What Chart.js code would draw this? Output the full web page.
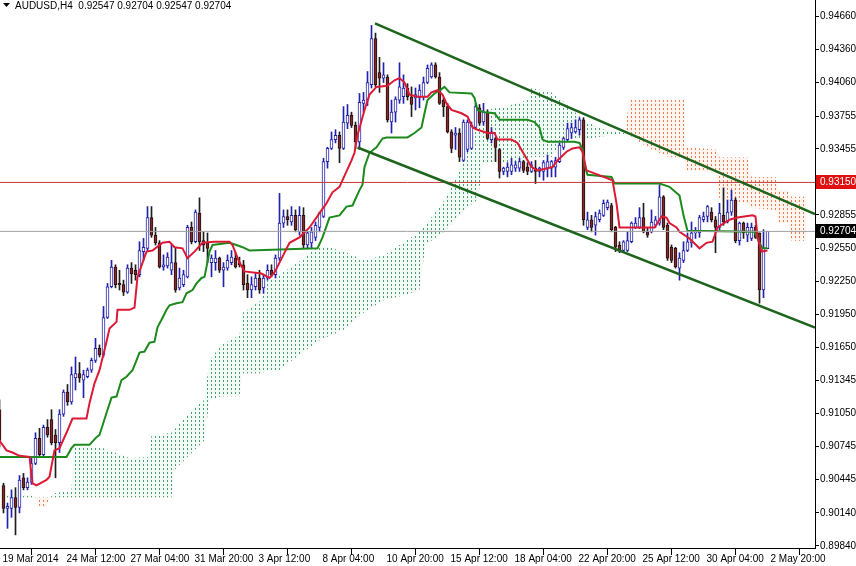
<!DOCTYPE html>
<html>
<head>
<meta charset="utf-8">
<title>AUDUSD,H4</title>
<script src="https://cdn.jsdelivr.net/npm/chart.js@4.4.1/dist/chart.umd.min.js"></script>
<style>
  html, body { margin: 0; padding: 0; background: #fff; }
  #wrap { width: 856px; height: 566px; }
</style>
</head>
<body>
<div id="wrap"><canvas id="chart" width="856" height="566"></canvas></div>
<script>
// AUDUSD H4 with Ichimoku, a falling channel and two price levels
// values are read off the screenshot, one entry per H4 bar

const opens = [
  0.9108,0.9039,0.9018,0.9018,0.9028,0.9019,0.9046,0.9037,0.9042,0.9059,
  0.9082,0.9067,0.9092,0.9099,0.9085,0.9078,0.9104,0.9124,0.9115,0.9137,
  0.9141,0.9135,0.9138,0.9144,0.9153,0.9164,0.9158,0.9192,0.9220,0.9238,
  0.9223,0.9222,0.9215,0.9237,0.9235,0.9231,0.9252,0.9255,0.9283,0.9267,
  0.9260,0.9238,0.9239,0.9235,0.9242,0.9219,0.9222,0.9229,0.9274,0.9261,
  0.9287,0.9262,0.9260,0.9242,0.9242,0.9246,0.9235,0.9237,0.9242,0.9246,
  0.9242,0.9240,0.9223,0.9217,0.9220,0.9228,0.9219,0.9228,0.9235,0.9231,
  0.9246,0.9278,0.9284,0.9279,0.9285,0.9270,0.9285,0.9258,0.9260,0.9265,
  0.9274,0.9284,0.9334,0.9346,0.9354,0.9358,0.9346,0.9369,0.9376,0.9367,
  0.9352,0.9387,0.9390,0.9404,0.9446,0.9415,0.9410,0.9411,0.9370,0.9379,
  0.9390,0.9393,0.9401,0.9393,0.9392,0.9392,0.9393,0.9406,0.9411,0.9422,
  0.9411,0.9390,0.9384,0.9361,0.9358,0.9360,0.9335,0.9345,0.9346,0.9365,
  0.9383,0.9370,0.9379,0.9354,0.9355,0.9345,0.9325,0.9325,0.9325,0.9328,
  0.9328,0.9334,0.9329,0.9325,0.9328,0.9325,0.9325,0.9328,0.9328,0.9329,
  0.9334,0.9347,0.9354,0.9360,0.9361,0.9363,0.9372,0.9274,0.9281,0.9276,
  0.9281,0.9285,0.9292,0.9294,0.9274,0.9258,0.9253,0.9253,0.9261,0.9274,
  0.9274,0.9283,0.9270,0.9270,0.9276,0.9278,0.9302,0.9276,0.9256,0.9255,
  0.9237,0.9244,0.9253,0.9260,0.9269,0.9269,0.9281,0.9284,0.9288,0.9281,
  0.9274,0.9285,0.9279,0.9288,0.9299,0.9262,0.9278,0.9267,0.9264,0.9274,
  0.9269,0.9217,0.92547
];
const highs = [
  0.9117,0.9041,0.9023,0.9035,0.9037,0.9048,0.9050,0.9046,0.9064,0.9087,
  0.9091,0.9094,0.9099,0.9108,0.9090,0.9108,0.9126,0.9131,0.9147,0.9156,
  0.9151,0.9144,0.9146,0.9155,0.9173,0.9167,0.9202,0.9223,0.9244,0.9240,
  0.9235,0.9226,0.9240,0.9242,0.9240,0.9261,0.9264,0.9293,0.9293,0.9274,
  0.9262,0.9249,0.9251,0.9258,0.9256,0.9237,0.9235,0.9276,0.9279,0.9290,
  0.9301,0.9270,0.9269,0.9249,0.9253,0.9247,0.9242,0.9249,0.9253,0.9251,
  0.9247,0.9244,0.9231,0.9229,0.9232,0.9235,0.9231,0.9240,0.9240,0.9249,
  0.9305,0.9290,0.9290,0.9293,0.9290,0.9293,0.9292,0.9270,0.9274,0.9279,
  0.9288,0.9337,0.9347,0.9361,0.9363,0.9361,0.9384,0.9386,0.9379,0.9370,
  0.9396,0.9397,0.9416,0.9458,0.9451,0.9429,0.9424,0.9413,0.9390,0.9393,
  0.9424,0.9413,0.9405,0.9402,0.9401,0.9404,0.9411,0.9422,0.9424,0.9424,
  0.9415,0.9392,0.9387,0.9363,0.9365,0.9364,0.9372,0.9372,0.9370,0.9387,
  0.9386,0.9387,0.9381,0.9365,0.9356,0.9346,0.9329,0.9333,0.9337,0.9334,
  0.9337,0.9335,0.9333,0.9334,0.9335,0.9329,0.9335,0.9340,0.9335,0.9338,
  0.9351,0.9356,0.9369,0.9369,0.9372,0.9374,0.9374,0.9288,0.9285,0.9288,
  0.9290,0.9299,0.9299,0.9296,0.9275,0.9261,0.9262,0.9270,0.9279,0.9283,
  0.9292,0.9296,0.9274,0.9290,0.9284,0.9313,0.9303,0.9278,0.9258,0.9256,
  0.9251,0.9261,0.9269,0.9279,0.9274,0.9285,0.9288,0.9294,0.9292,0.9284,
  0.9296,0.9310,0.9299,0.9308,0.9301,0.9279,0.9279,0.9278,0.9278,0.9276,
  0.9269,0.9272,0.92704
];
const lows = [
  0.9074,0.9014,0.9000,0.9010,0.8994,0.9014,0.9035,0.9035,0.9040,0.9058,
  0.9065,0.9065,0.9083,0.9076,0.9046,0.9069,0.9102,0.9112,0.9113,0.9126,
  0.9133,0.9119,0.9137,0.9142,0.9151,0.9156,0.9156,0.9191,0.9219,0.9219,
  0.9217,0.9212,0.9214,0.9223,0.9226,0.9229,0.9244,0.9253,0.9265,0.9258,
  0.9237,0.9235,0.9237,0.9231,0.9215,0.9217,0.9220,0.9228,0.9259,0.9260,
  0.9253,0.9252,0.9242,0.9229,0.9235,0.9233,0.9220,0.9235,0.9240,0.9237,
  0.9238,0.9217,0.9210,0.9210,0.9217,0.9214,0.9214,0.9226,0.9229,0.9228,
  0.9244,0.9274,0.9276,0.9276,0.9270,0.9267,0.9255,0.9255,0.9255,0.9262,
  0.9270,0.9283,0.9328,0.9345,0.9351,0.9333,0.9345,0.9364,0.9365,0.9346,
  0.9345,0.9379,0.9385,0.9401,0.9402,0.9397,0.9406,0.9370,0.9360,0.9370,
  0.9387,0.9387,0.9390,0.9375,0.9381,0.9383,0.9390,0.9405,0.9410,0.9410,
  0.9386,0.9375,0.9360,0.9342,0.9345,0.9334,0.9334,0.9343,0.9345,0.9364,
  0.9367,0.9367,0.9354,0.9351,0.9334,0.9319,0.9322,0.9320,0.9322,0.9325,
  0.9325,0.9324,0.9322,0.9324,0.9314,0.9320,0.9317,0.9320,0.9320,0.9320,
  0.9333,0.9345,0.9352,0.9355,0.9360,0.9358,0.9276,0.9272,0.9270,0.9267,
  0.9279,0.9284,0.9290,0.9270,0.9252,0.9251,0.9252,0.9252,0.9260,0.9273,
  0.9273,0.9269,0.9265,0.9269,0.9274,0.9276,0.9272,0.9244,0.9242,0.9237,
  0.9226,0.9242,0.9252,0.9256,0.9264,0.9265,0.9279,0.9279,0.9279,0.9251,
  0.9272,0.9276,0.9278,0.9285,0.9260,0.9258,0.9264,0.9261,0.9262,0.9264,
  0.9205,0.9210,0.92547
];
const closes = [
  0.9080,0.9018,0.9020,0.9028,0.9019,0.9044,0.9037,0.9042,0.9059,0.9082,
  0.9067,0.9092,0.9085,0.9078,0.9078,0.9104,0.9124,0.9115,0.9140,0.9141,
  0.9137,0.9140,0.9144,0.9153,0.9164,0.9158,0.9192,0.9220,0.9238,0.9222,
  0.9222,0.9215,0.9237,0.9232,0.9231,0.9253,0.9256,0.9283,0.9267,0.9260,
  0.9238,0.9240,0.9247,0.9242,0.9217,0.9228,0.9231,0.9274,0.9261,0.9288,
  0.9261,0.9258,0.9255,0.9246,0.9246,0.9235,0.9238,0.9244,0.9247,0.9238,
  0.9240,0.9222,0.9217,0.9222,0.9228,0.9217,0.9228,0.9235,0.9231,0.9246,
  0.9278,0.9284,0.9281,0.9285,0.9272,0.9285,0.9258,0.9269,0.9270,0.9276,
  0.9287,0.9334,0.9346,0.9354,0.9358,0.9346,0.9370,0.9376,0.9367,0.9352,
  0.9388,0.9390,0.9406,0.9446,0.9404,0.9410,0.9413,0.9372,0.9379,0.9391,
  0.9402,0.9401,0.9393,0.9386,0.9395,0.9399,0.9406,0.9419,0.9422,0.9411,
  0.9387,0.9384,0.9361,0.9346,0.9360,0.9338,0.9370,0.9370,0.9367,0.9384,
  0.9369,0.9379,0.9355,0.9361,0.9347,0.9325,0.9328,0.9329,0.9331,0.9331,
  0.9334,0.9326,0.9325,0.9331,0.9325,0.9328,0.9333,0.9334,0.9334,0.9335,
  0.9349,0.9355,0.9364,0.9365,0.9365,0.9372,0.9281,0.9281,0.9274,0.9284,
  0.9287,0.9296,0.9297,0.9272,0.9256,0.9253,0.9261,0.9262,0.9278,0.9278,
  0.9283,0.9270,0.9267,0.9279,0.9281,0.9302,0.9274,0.9246,0.9244,0.9238,
  0.9246,0.9253,0.9261,0.9269,0.9270,0.9283,0.9284,0.9293,0.9281,0.9274,
  0.9287,0.9279,0.9288,0.9299,0.9262,0.9278,0.9269,0.9274,0.9274,0.9265,
  0.9217,0.9255,0.92704
];

// Tenkan-sen (red), vertices as [bar, price]
const tenkanX = [0,1.75,3.25,5,7.5,8.25,9.25,11.75,12.5,13.75,15,16.75,18.25,21.75,22.5,23.75,25,26.75,27.5,29.25,
  29.5,32.5,33.75,34.5,36.75,38.25,40.75,42.5,43.75,45.75,47,48.75,50.75,53.75,57.5,58.25,60,61.25,65.5,67.5,
  68.75,70,72.5,75,77.5,80,81.75,83.25,85,86.75,88,88.75,89.5,91.25,92.5,94.25,97,98.75,100,101.25,
  102.5,104.5,107,108,109.5,110.75,111.75,113,115.5,117,118.25,119.5,122,123.75,124.5,128,129.5,131.25,133,134.5,
  137,138.25,139.5,141.75,143.25,145,145.75,146.75,153.25,154.25,155,163,163.75,164.5,165.5,166.75,167.5,169.25,170,172.5,
  175,176.75,178.25,179.5,182.5,184.5,188.25,189,189.5,190.5,192];
const tenkanY = [0.9080,0.9071,0.9069,0.9066,0.9065,0.9041,0.9039,0.9044,0.9047,0.9071,0.9073,0.9087,0.9100,0.9100,0.9114,0.9132,0.9144,0.9170,0.9182,0.9188,
  0.9199,0.9199,0.9201,0.9229,0.9252,0.9253,0.9260,0.9261,0.9256,0.9255,0.9246,0.9252,0.9260,0.9261,0.9261,0.9258,0.9242,0.9234,0.9232,0.9228,
  0.9233,0.9242,0.9260,0.9265,0.9274,0.9287,0.9296,0.9306,0.9311,0.9325,0.9335,0.9342,0.9358,0.9381,0.9395,0.9402,0.9403,0.9408,0.9410,0.9406,
  0.9395,0.9393,0.9393,0.9397,0.9399,0.9395,0.9387,0.9381,0.9378,0.9375,0.9365,0.9363,0.9360,0.9360,0.9354,0.9354,0.9351,0.9340,0.9329,0.9326,
  0.9328,0.9329,0.9335,0.9343,0.9346,0.9347,0.9343,0.9326,0.9317,0.9296,0.9274,0.9274,0.9274,0.9278,0.9284,0.9283,0.9278,0.9274,0.9270,0.9264,
  0.9255,0.9260,0.9261,0.9274,0.9281,0.9283,0.9285,0.9284,0.9265,0.9252,0.9253];

// Kijun-sen (green)
const kijunX = [0,16.75,18,18.75,22.5,24.25,25,26.75,28,29.25,30.5,31.75,33.25,34.25,35,36.25,37.5,38.75,39.5,40.5,
  41.75,42.5,44.25,45.75,46.75,48.25,49.25,50.5,51.25,51.75,52.5,53.25,57.5,59.25,60.75,62.5,79.5,80.75,82.5,85,
  86.75,88.25,90,90.75,91.25,92.5,94.25,95.75,96.75,102,103.75,105.5,106.25,107,108.75,110.5,111.25,112.5,118,118.75,
  119.5,121.25,123.75,125,132,133.75,135,135.75,137,143.75,145,145.75,146.25,147,153,153.75,165,167.5,170,171,
  172,188.75,190,190.75,192];
const kijunY = [0.9065,0.9065,0.9073,0.9076,0.9076,0.9083,0.9085,0.9105,0.9119,0.9120,0.9135,0.9138,0.9144,0.9153,0.9160,0.9161,0.9169,0.9170,0.9183,0.9190,
  0.9199,0.9203,0.9205,0.9206,0.9214,0.9217,0.9223,0.9228,0.9229,0.9238,0.9252,0.9258,0.9260,0.9258,0.9256,0.9253,0.9255,0.9265,0.9283,0.9285,
  0.9293,0.9294,0.9308,0.9313,0.9329,0.9342,0.9347,0.9355,0.9356,0.9356,0.9360,0.9365,0.9378,0.9390,0.9396,0.9400,0.9402,0.9397,0.9396,0.9392,
  0.9381,0.9379,0.9378,0.9372,0.9372,0.9370,0.9365,0.9354,0.9352,0.9352,0.9351,0.9345,0.9331,0.9322,0.9320,0.9314,0.9314,0.9311,0.9303,0.9285,
  0.9271,0.9270,0.9260,0.9255,0.9255];

// Senkou span A / B (the dotted cloud), shifted forward
const cloudX = [0,8,9,10,11.5,12.5,13.5,18,18.5,26,32.5,37.5,38,43,43.75,48.75,51.25,52.5,55.5,60,
  60.75,65.5,67,70,75,80,86.25,91.25,96.25,101.25,105,106.5,111.25,116.25,119.5,121,126.25,132,133,138,
  141.25,146.25,151.25,156.25,157.5,162.5,167.5,171.25,171.75,179.25,180,187,188,194,194.75,197.25,198,201.75];
const spanA = [0.9031,0.9030,0.9027,0.9020,0.9019,0.9027,0.9032,0.9034,0.9074,0.9073,0.9064,0.9065,0.9085,0.9087,0.9090,0.9110,0.9117,0.9153,0.9167,0.9176,
  0.9196,0.9208,0.9226,0.9231,0.9243,0.9258,0.9252,0.9244,0.9249,0.9261,0.9270,0.9276,0.9299,0.9335,0.9372,0.9381,0.9384,0.9390,0.9401,0.9397,
  0.9388,0.9371,0.9363,0.9360,0.9358,0.9346,0.9338,0.9338,0.9326,0.9324,0.9299,0.9296,0.9292,0.9290,0.9278,0.9278,0.9262,0.9262];
const spanB = [0.9028,0.9028,0.9028,0.9028,0.9028,0.9028,0.9028,0.9028,0.9028,0.9028,0.9028,0.9028,0.9028,0.9028,0.9053,0.9071,0.9080,0.9117,0.9120,0.9120,
  0.9141,0.9141,0.9144,0.9144,0.9158,0.9171,0.9181,0.9197,0.9208,0.9212,0.9217,0.9258,0.9270,0.9290,0.9299,0.9333,0.9333,0.9334,0.9338,0.9338,
  0.9354,0.9354,0.9357,0.9359,0.9390,0.9390,0.9390,0.9390,0.9347,0.9345,0.9338,0.9338,0.9320,0.9320,0.9308,0.9308,0.9302,0.9302];

// channel trend lines, start and end
const upperX = [93.875, 203.875];
const upperY = [0.94599, 0.92862];
const lowerX = [89.5, 203.875];
const lowerY = [0.93468, 0.91827];

// horizontal levels: resistance and bid
const levels = [0.93150, 0.92704];
const levelColors = ['#c03838', '#a0a0a0'];
const tagColors = ['#e01010', '#000000'];

const yTicks = [0.94660,0.94360,0.94060,0.93755,0.93455,0.93150,0.92855,0.92550,0.92250,
  0.91950,0.91650,0.91345,0.91050,0.90745,0.90445,0.90140,0.89840];
const xTickBars = [0,16,32,48,64,80,96,112,128,144,160,176,192];
const xTickLabels = ['19 Mar 2014','24 Mar 12:00','27 Mar 04:00','31 Mar 20:00','3 Apr 12:00','8 Apr 04:00',
  '10 Apr 20:00','15 Apr 12:00','18 Apr 04:00','22 Apr 20:00','25 Apr 12:00','30 Apr 04:00','2 May 20:00'];

const header = 'AUDUSD,H4  0.92547 0.92704 0.92547 0.92704';

const X_MIN = 0.125, X_MAX = 203.875;
const Y_MIN = 0.898206, Y_MAX = 0.948115;
const FONT = '"Liberation Sans", Arial, sans-serif';

Chart.defaults.font.family = FONT;
Chart.defaults.font.size = 10;
Chart.defaults.color = '#000';

const canvas = document.getElementById('chart');
const ctx = canvas.getContext('2d');

// MT4 draws the kumo as short vertical dashes, one column per bar
function dotPattern(tint, color) {
  const c = document.createElement('canvas');
  c.width = 4;
  c.height = 4;
  const g = c.getContext('2d');
  g.fillStyle = tint;
  g.fillRect(0, 0, 4, 4);
  g.fillStyle = color;
  g.fillRect(3, 0, 1, 2);
  return ctx.createPattern(c, 'repeat');
}

const xy = (xs, ys) => xs.map((x, i) => ({ x: x, y: ys[i] }));
const bars = opens.map((_, i) => i);
const bull = bars.map(i => closes[i] >= opens[i]);

const lineBase = { type: 'line', pointRadius: 0, tension: 0, fill: false };

const datasets = [
  Object.assign({}, lineBase, { label: 'channel top', data: xy(upperX, upperY), borderColor: '#1d641d', borderWidth: 2.5, order: 0 }),
  Object.assign({}, lineBase, { label: 'channel bottom', data: xy(lowerX, lowerY), borderColor: '#1d641d', borderWidth: 2.5, order: 0 }),
  Object.assign({}, lineBase, { label: 'level', data: [{ x: X_MIN, y: levels[0] }, { x: X_MAX, y: levels[0] }], borderColor: levelColors[0], borderWidth: 1, order: 1 }),
  Object.assign({}, lineBase, { label: 'bid', data: [{ x: X_MIN, y: levels[1] }, { x: X_MAX, y: levels[1] }], borderColor: levelColors[1], borderWidth: 1, order: 1 }),
  Object.assign({}, lineBase, { label: 'Tenkan', data: xy(tenkanX, tenkanY), borderColor: '#dc1a36', borderWidth: 2, order: 2 }),
  Object.assign({}, lineBase, { label: 'Kijun', data: xy(kijunX, kijunY), borderColor: '#1c8a1c', borderWidth: 2, order: 3 }),
  {
    type: 'bar', label: 'body', order: 4, grouped: false,
    data: bars.map(i => ({ x: i, y: [opens[i], closes[i]] })),
    backgroundColor: bull.map(b => b ? '#ffffff' : '#7c2a2a'),
    borderColor: bull.map(b => b ? '#2222aa' : '#2a0e0e'),
    borderWidth: 1, borderSkipped: false, barThickness: 3, minBarLength: 1
  },
  {
    type: 'bar', label: 'wick', order: 5, grouped: false,
    data: bars.map(i => ({ x: i, y: [lows[i], highs[i]] })),
    backgroundColor: bull.map(b => b ? '#2222aa' : '#1e1e1e'),
    borderWidth: 0, barThickness: 1
  },
  Object.assign({}, lineBase, {
    label: 'Senkou A', data: xy(cloudX, spanA), borderColor: 'rgba(0,0,0,0)', borderWidth: 1, order: 6,
    fill: { target: '+1', above: dotPattern('#f4faf6', '#46a270'), below: dotPattern('#fef5f0', '#f07c4c') }
  }),
  Object.assign({}, lineBase, { label: 'Senkou B', data: xy(cloudX, spanB), borderColor: 'rgba(0,0,0,0)', borderWidth: 1, order: 7 })
];

const overlay = {
  id: 'overlay',
  afterDraw(chart) {
    const c = chart.ctx;
    const area = chart.chartArea;
    const y = chart.scales.y;
    c.save();
    c.font = '10px ' + FONT;
    c.textBaseline = 'middle';
    c.textAlign = 'left';
    levels.forEach((v, i) => {
      const py = Math.round(y.getPixelForValue(v));
      c.fillStyle = tagColors[i];
      c.fillRect(area.right + 1, py - 7, 41, 14);
      c.fillStyle = '#fff';
      c.fillText(v.toFixed(5), area.right + 5, py + 0.5);
    });
    // symbol header, top left
    c.fillStyle = '#000';
    c.beginPath();
    c.moveTo(3, 3);
    c.lineTo(10, 3);
    c.lineTo(6.5, 7);
    c.closePath();
    c.fill();
    c.fillText(header, 15, 6);
    c.restore();
  }
};

new Chart(ctx, {
  type: 'bar',
  data: { datasets: datasets },
  plugins: [overlay],
  options: {
    responsive: false,
    animation: false,
    events: [],
    layout: { padding: 0 },
    plugins: { legend: { display: false }, tooltip: { enabled: false } },
    scales: {
      x: {
        type: 'linear', min: X_MIN, max: X_MAX, offset: false,
        afterBuildTicks: s => { s.ticks = xTickBars.map(v => ({ value: v })); },
        afterFit: s => { s.height = 18; s.paddingLeft = 0; s.paddingRight = 0; },
        grid: { drawOnChartArea: false, drawTicks: true, tickLength: 7, color: '#000' },
        border: { display: true, color: '#000' },
        ticks: {
          autoSkip: false, maxRotation: 0, align: 'start', labelOffset: 3, padding: -2,
          callback: v => xTickLabels[xTickBars.indexOf(v)]
        }
      },
      y: {
        position: 'right', min: Y_MIN, max: Y_MAX,
        afterBuildTicks: s => { s.ticks = yTicks.map(v => ({ value: v })); },
        afterFit: s => { s.width = 41; s.paddingTop = 0; s.paddingBottom = 0; },
        grid: { drawOnChartArea: false, drawTicks: true, tickLength: 4, color: '#000' },
        border: { display: true, color: '#000' },
        ticks: { autoSkip: false, padding: 1, callback: v => v.toFixed(5) }
      }
    }
  }
});
</script>
</body>
</html>
